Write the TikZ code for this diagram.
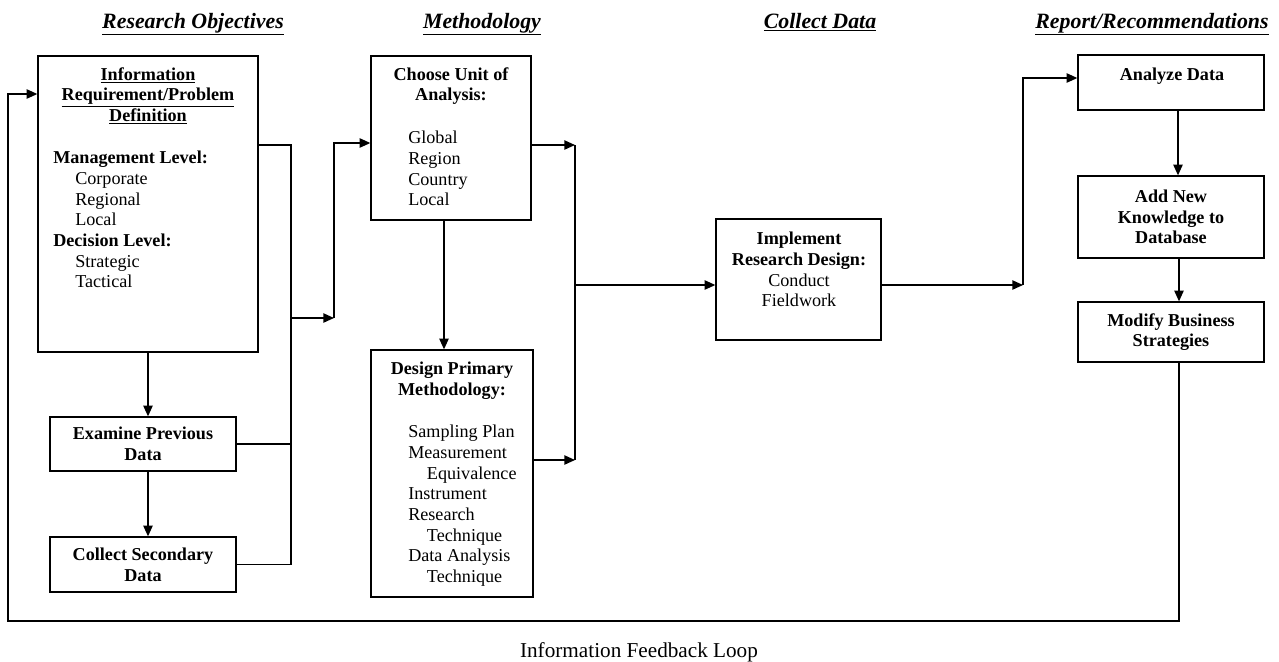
\documentclass[tikz,border=0pt]{standalone}
\usepackage{fontspec}
\setmainfont{Liberation Serif}
\usetikzlibrary{arrows.meta}

\begin{document}
\begin{tikzpicture}[x=0.75pt,y=-0.75pt]
        \tikzstyle{box} = [draw, line width=1pt, inner sep=0pt];
        \tikzstyle{txt} = [inner sep=0pt, font=\fontsize{13.6}{15.5}\selectfont];
        \tikzstyle{boldtxt} = [txt, align=center, font=\fontsize{13.6}{15.5}\selectfont\bfseries];
        \tikzstyle{boxtxt} = [box, align=center, font=\fontsize{13.6}{15.5}\selectfont\bfseries];
        \tikzstyle{title} = [inner sep=0pt, anchor=base, font=\fontsize{16.4}{19}\selectfont\bfseries\itshape];
        \tikzstyle{wire} = [line width=1pt];
        \tikzstyle{arr} = [wire, -{Triangle[length=8pt,width=7pt]}];
        \useasboundingbox (0,0) rectangle (1279,661);

        \node [title] (t1) at (193,28) {\underline{Research Objectives}};
        \node [title] (t2) at (482,28) {\underline{Methodology}};
        \node [title] (t3) at (820,28) {\underline{Collect Data}};
        \node [title] (t4) at (1152,28) {\underline{Report/Recommendations}};

        \node [box, minimum width=165pt, minimum height=222pt] (info) at (148,204) {};
        \node [boldtxt, anchor=north] (infohead) at (148,67) {
            \underline{Information}\\ \underline{Requirement/Problem}\\ \underline{Definition}
        };
        \node [txt, align=left, anchor=north west] (infolist) at (53,151) {
            \textbf{Management Level:}\\ \hspace*{16.5pt}Corporate\\ \hspace*{16.5pt}Regional\\
            \hspace*{16.5pt}Local\\ \textbf{Decision Level:}\\ \hspace*{16.5pt}Strategic\\
            \hspace*{16.5pt}Tactical
        };
        \node [boxtxt, minimum width=139.5pt, minimum height=40.5pt] (exam) at (143,444) {Examine Previous\\ Data};
        \node [boxtxt, minimum width=139.5pt, minimum height=41.25pt] (collect) at (143,564.5) {Collect Secondary\\ Data};

        \node [box, minimum width=120pt, minimum height=123pt] (unit) at (451,138) {};
        \node [boldtxt, anchor=north] (unithead) at (451,67) {Choose Unit of\\ Analysis:};
        \node [txt, align=left, anchor=north west] (unitlist) at (408,131) {Global\\ Region\\ Country\\ Local};

        \node [box, minimum width=121.5pt, minimum height=185.25pt] (design) at (452,473.5) {};
        \node [boldtxt, anchor=north] (designhead) at (452,362) {Design Primary\\ Methodology:};
        \node [txt, align=left, anchor=north west] (designlist) at (408,425) {
            Sampling Plan\\ Measurement\\ \hspace*{14pt}Equivalence\\ Instrument\\ Research\\
            \hspace*{14pt}Technique\\ Data Analysis\\ \hspace*{14pt}Technique
        };

        \node [box, minimum width=123.75pt, minimum height=90.75pt] (impl) at (798.5,279.5) {};
        \node [txt, align=center, anchor=north] (impltext) at (799,232) {
            \textbf{Implement}\\ \textbf{Research Design:}\\ Conduct\\ Fieldwork
        };

        \node [box, minimum width=139.5pt, minimum height=41.25pt] (analyze) at (1171,82.5) {};
        \node [boldtxt, anchor=north] (analyzetext) at (1172,68) {Analyze Data};
        \node [boxtxt, minimum width=139.5pt, minimum height=61.5pt] (addnew) at (1171,217) {Add New\\ Knowledge to\\ Database};
        \node [boxtxt, minimum width=139.5pt, minimum height=45pt] (modify) at (1171,332) {Modify Business\\ Strategies};

        \node [txt, anchor=base, font=\fontsize{15.9}{18}\selectfont] (fblabel) at (639,657) {Information Feedback Loop};

        \coordinate (busA) at (291,145);
        \coordinate (busB) at (291,318);
        \coordinate (jA) at (334,318);
        \coordinate (jB) at (334,143);
        \coordinate (mc) at (444,0);
        \coordinate (busC) at (575,145);
        \coordinate (busD) at (575,285);
        \coordinate (busE) at (575,460);
        \coordinate (jC) at (1023,285);
        \coordinate (jD) at (1023,78);
        \coordinate (rc) at (1178,0);
        \coordinate (fbA) at (1179,621);
        \coordinate (fbB) at (8,621);
        \coordinate (fbC) at (8,94);

        \draw [arr] (info.south) -- (info.south |- exam.north);
        \draw [arr] (info.south |- exam.south) -- (info.south |- collect.north);
        \draw [wire] (info.east |- busA) -- (busA) -- (busA |- collect.east) -- (collect.east);
        \draw [wire] (exam.east) -- (exam.east -| busA);
        \draw [arr] (busB) -- (jA);
        \draw [arr] (jA) -- (jB) -- (unit.west |- jB);

        \draw [arr] (unit.south -| mc) -- (design.north -| mc);
        \draw [arr] (unit.east |- busC) -- (busC);
        \draw [arr] (design.east |- busE) -- (busE);
        \draw [wire] (busC) -- (busE);
        \draw [arr] (busD) -- (impl.west |- busD);

        \draw [arr] (impl.east |- jC) -- (jC);
        \draw [arr] (jC) -- (jD) -- (analyze.west |- jD);
        \draw [arr] (analyze.south -| rc) -- (addnew.north -| rc);
        \draw [arr] (addnew.south -| fbA) -- (modify.north -| fbA);
        \draw [arr] (modify.south -| fbA) -- (fbA) -- (fbB) -- (fbC) -- (info.west |- fbC);
\end{tikzpicture}
\end{document}
